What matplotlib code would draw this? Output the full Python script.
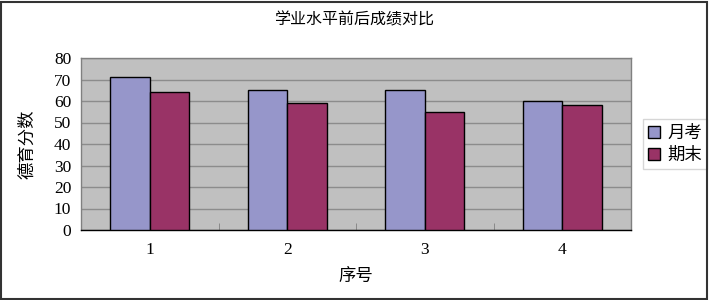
import matplotlib.pyplot as plt
import numpy as np
from matplotlib.patches import Rectangle

plt.rcParams['font.family'] = ['Liberation Serif', 'Noto Sans CJK SC']

categories = ['1', '2', '3', '4']
yuekao = [71, 65, 65, 60]   # 月考
qimo = [64, 59, 55, 58]     # 期末
series_names = ['月考', '期末']
yticks = [0, 10, 20, 30, 40, 50, 60, 70, 80]

fig = plt.figure(figsize=(7.09, 3.0), dpi=100)
ax = fig.add_axes([81/709, 1-230/300, 550/709, 172/300])

x = np.arange(len(categories))
w = 0.286
ax.bar(x - w/2, yuekao, w, color='#9696CA', edgecolor='black', linewidth=1.0, label=series_names[0], zorder=3)
ax.bar(x + w/2, qimo, w, color='#993366', edgecolor='black', linewidth=1.0, label=series_names[1], zorder=3)

ax.set_facecolor('#C0C0C0')
ax.set_xlim(-0.5, 3.5)
ax.set_ylim(0, 80)
ax.set_yticks(yticks)
ax.set_yticklabels([str(v) for v in yticks], fontsize=12.5)
ax.yaxis.grid(True, color='#8C8C8C', linewidth=1.0, zorder=0)
ax.set_axisbelow(True)
ax.set_xticks(x)
ax.set_xticklabels(categories, fontsize=12.5)
ax.set_xticks(np.arange(-0.5, 4, 1), minor=True)
ax.tick_params(axis='x', which='major', length=0, pad=9)
ax.tick_params(axis='x', which='minor', length=5, direction='in', color='#808080')
ax.tick_params(axis='y', length=0, pad=7)
for s in ax.spines.values():
    s.set_color('#808080')
    s.set_linewidth(1.0)
ax.spines['bottom'].set_color('black')

ax.set_xlabel('序号', fontsize=12.5, family='Noto Sans CJK SC', labelpad=6)
ax.set_ylabel('德育分数', fontsize=12.5, family='Noto Sans CJK SC', labelpad=13)
fig.text(0.5, 1-20/300, '学业水平前后成绩对比', ha='center', va='center', fontsize=11.5, family='Noto Sans CJK SC')

leg = ax.legend(loc='center left', bbox_to_anchor=(1.022, 0.5), prop={'family': 'Noto Sans CJK SC', 'size': 12.5},
                frameon=True, fancybox=False, handlelength=0.7, handleheight=0.7, handletextpad=0.4,
                borderpad=0.3, labelspacing=0.2, borderaxespad=0)
leg.get_frame().set_edgecolor('#CCCCCC')
leg.get_frame().set_linewidth(1.0)

fig.patches.append(Rectangle((0.002, 0.004), 0.995, 0.99, transform=fig.transFigure, fill=False,
                             edgecolor='#333333', linewidth=1.5))

fig.savefig('out.png', dpi=100)
